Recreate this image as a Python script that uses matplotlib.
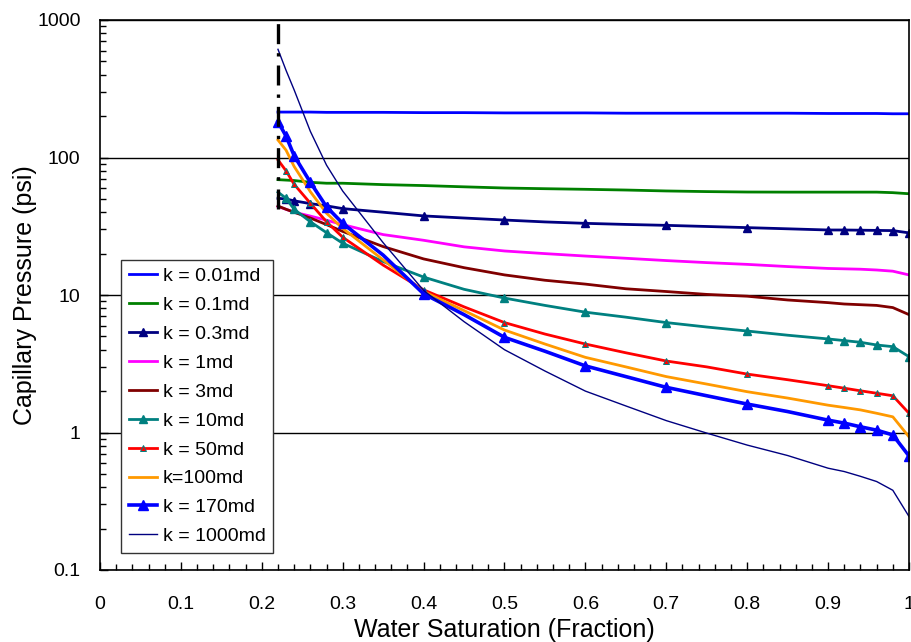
import matplotlib
matplotlib.use("Agg")
import matplotlib.pyplot as plt
from matplotlib.ticker import FixedLocator, LogLocator, NullFormatter

plt.rcParams['font.family'] = ['Liberation Sans', 'DejaVu Sans']

# water saturation points (fraction)
sw = [0.22, 0.23, 0.24, 0.26, 0.28, 0.30, 0.35, 0.40, 0.45, 0.50, 0.55, 0.60,
      0.65, 0.70, 0.75, 0.80, 0.85, 0.90, 0.92, 0.94, 0.96, 0.98, 1.00]

# capillary pressure (psi) for each permeability
pc_001 = [214, 214, 214, 214, 213, 213, 213, 212, 212, 211, 211, 211,
          210, 210, 210, 210, 210, 209, 209, 209, 209, 208, 208]
pc_01 = [69, 68.5, 68, 66, 65, 65, 63.5, 62.5, 61.2, 60, 59.3, 58.7,
         58, 57.1, 56.5, 56.1, 56, 56, 56, 56, 56, 55.5, 54.5]
pc_03 = [50.5, 49.9, 48.4, 46.2, 44.5, 42.5, 40, 37.6, 36.3, 35.1, 34, 33.2,
         32.6, 32.1, 31.5, 30.9, 30.3, 29.7, 29.7, 29.6, 29.5, 29.4, 28.3]
pc_1 = [44, 42, 40, 37.5, 35, 32.5, 27.5, 25, 22.4, 20.9, 20, 19.2,
        18.5, 17.8, 17.2, 16.7, 16.1, 15.6, 15.5, 15.4, 15.2, 14.9, 14.0]
pc_3 = [44.4, 42, 40, 36.3, 32.5, 29, 22.5, 18.3, 15.8, 14.0, 12.8, 12.0,
        11.1, 10.6, 10.1, 9.8, 9.2, 8.8, 8.6, 8.5, 8.4, 8.1, 7.2]
pc_10 = [56, 50.5, 42, 34.1, 28.4, 23.8, 17.5, 13.5, 11.0, 9.5, 8.4, 7.5,
         6.9, 6.3, 5.85, 5.47, 5.1, 4.79, 4.66, 4.53, 4.33, 4.21, 3.56]
pc_50 = [96, 80, 63.8, 46.5, 34.1, 26.3, 16.5, 10.9, 8.2, 6.3, 5.2, 4.4,
         3.8, 3.31, 3.0, 2.66, 2.42, 2.19, 2.10, 2.01, 1.93, 1.85, 1.38]
pc_100 = [134, 113, 86, 56.4, 39.3, 30.5, 18, 10.6, 7.7, 5.56, 4.4, 3.52,
          3.0, 2.55, 2.25, 1.98, 1.78, 1.58, 1.52, 1.46, 1.38, 1.30, 0.93]
pc_170 = [182, 143, 103, 66, 43.8, 33.2, 19.5, 10.2, 7.2, 4.92, 3.9, 3.05,
          2.55, 2.13, 1.85, 1.61, 1.42, 1.23, 1.17, 1.10, 1.04, 0.96, 0.675]
pc_1000 = [612, 430, 310, 155, 88, 57, 24, 10.8, 6.4, 4.0, 2.8, 2.0,
           1.56, 1.22, 0.99, 0.81, 0.68, 0.55, 0.52, 0.48, 0.44, 0.38, 0.245]

# vertical irreducible saturation line
swi = 0.22
swi_range = [42, 1000]

# tick values and labels
x_ticks = [0, 0.1, 0.2, 0.3, 0.4, 0.5, 0.6, 0.7, 0.8, 0.9, 1]
x_labels = ['0', '0.1', '0.2', '0.3', '0.4', '0.5', '0.6', '0.7', '0.8', '0.9', '1']
y_ticks = [0.1, 1, 10, 100, 1000]
y_labels = ['0.1', '1', '10', '100', '1000']

# indices where triangle markers are drawn
mark_idx = [1, 2, 3, 4, 5, 7, 9, 11, 13, 15, 17, 18, 19, 20, 21, 22]

fig = plt.figure(figsize=(9.12, 6.42), dpi=100)
ax = fig.add_axes([100 / 912, 1 - 570 / 642, 809 / 912, 550 / 642])

ax.plot([swi, swi], swi_range, color='black', lw=2.4, linestyle=(0, (6, 2.7, 1, 2.7)), zorder=5)

ax.plot(sw, pc_001, color='#0000FF', lw=2, label='k = 0.01md')
ax.plot(sw, pc_01, color='#008000', lw=2, label='k = 0.1md')
ax.plot(sw, pc_03, color='#000080', lw=2, marker='^', markersize=6,
        markevery=mark_idx, label='k = 0.3md')
ax.plot(sw, pc_1, color='#FF00FF', lw=2, label='k = 1md')
ax.plot(sw, pc_3, color='#800000', lw=2, label='k = 3md')
ax.plot(sw, pc_10, color='#008080', lw=2, marker='^', markersize=6,
        markevery=mark_idx, label='k = 10md')
ax.plot(sw, pc_50, color='#FF0000', lw=2, marker='^', markersize=4,
        markerfacecolor='#FF0000', markeredgecolor='#008080', markeredgewidth=0.7,
        markevery=mark_idx, label='k = 50md')
ax.plot(sw, pc_100, color='#FF9900', lw=2, label='k=100md')
ax.plot(sw, pc_170, color='#0000FF', lw=2.6, marker='^', markersize=7,
        markevery=[0] + mark_idx, label='k = 170md')
ax.plot(sw, pc_1000, color='#000080', lw=1, label='k = 1000md')

ax.set_yscale('log')
ax.set_xlim(0, 1)
ax.set_ylim(0.1, 1000)

ax.xaxis.set_major_locator(FixedLocator(x_ticks))
ax.xaxis.set_minor_locator(FixedLocator([i * 0.02 for i in range(51)]))
ax.set_xticklabels(x_labels)
ax.yaxis.set_major_locator(FixedLocator(y_ticks))
ax.yaxis.set_minor_locator(LogLocator(base=10, subs=range(2, 10)))
ax.yaxis.set_minor_formatter(NullFormatter())
ax.set_yticklabels(y_labels)

ax.tick_params(axis='both', which='both', direction='in', labelsize=14, width=1)
ax.tick_params(axis='x', which='major', length=6, pad=19)
ax.tick_params(axis='x', which='minor', length=4)
ax.tick_params(axis='y', which='major', length=6, pad=14)
ax.tick_params(axis='y', which='minor', length=4)

ax.yaxis.grid(True, which='major', color='black', lw=1)
ax.set_axisbelow(True)
for s in ax.spines.values():
    s.set_linewidth(1.2)

ax.set_xlabel('Water Saturation (Fraction)', fontsize=18, labelpad=3)
ax.set_ylabel('Capillary Pressure (psi)', fontsize=18, labelpad=0)

leg = ax.legend(loc='lower left', bbox_to_anchor=(0.026, 0.031), borderaxespad=0,
                fontsize=14, labelspacing=0.58, handlelength=1.45, handletextpad=0.3,
                fancybox=False, edgecolor='#333333', framealpha=1, borderpad=0.4)
leg.get_frame().set_linewidth(1)

fig.savefig('out.png', dpi=100)
